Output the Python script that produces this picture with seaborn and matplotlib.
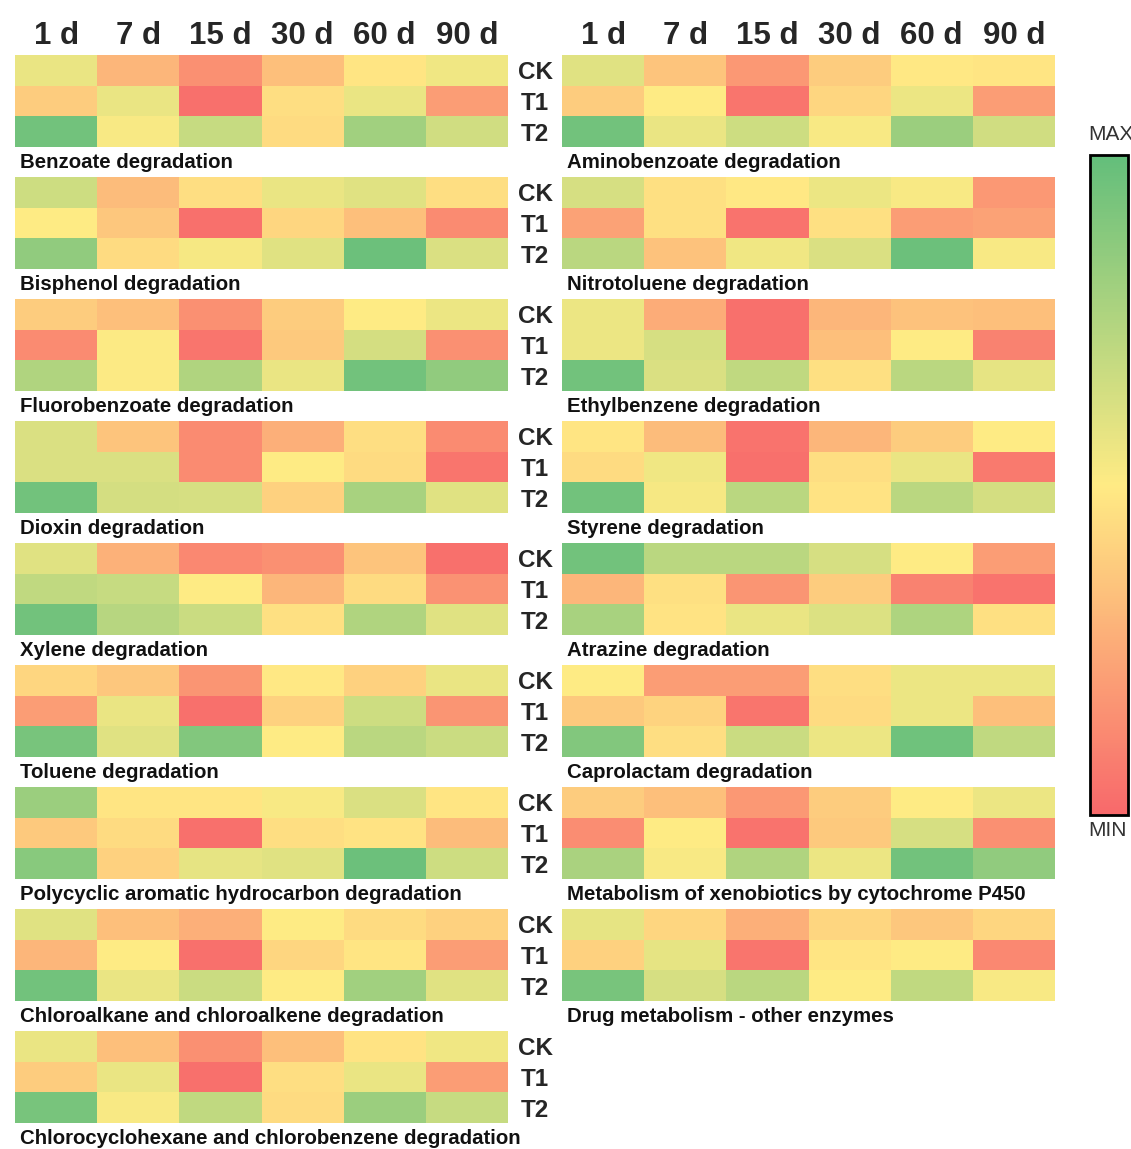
import numpy as np
import pandas as pd
import matplotlib
matplotlib.use("Agg")
import matplotlib.pyplot as plt
import seaborn as sns
from matplotlib.colors import LinearSegmentedColormap

# ---- data: relative abundance (0 = MIN, 1 = MAX) per pathway, rows CK/T1/T2 ----
days = ["1 d", "7 d", "15 d", "30 d", "60 d", "90 d"]
groups = ["CK", "T1", "T2"]

benzoate = [[0.57, 0.30, 0.15, 0.33, 0.48, 0.55],
            [0.38, 0.57, 0.03, 0.45, 0.57, 0.20],
            [0.95, 0.52, 0.68, 0.44, 0.80, 0.65]]
bisphenol = [[0.66, 0.32, 0.45, 0.57, 0.60, 0.45],
             [0.50, 0.36, 0.03, 0.42, 0.33, 0.13],
             [0.85, 0.44, 0.53, 0.60, 0.97, 0.62]]
fluorobenzoate = [[0.38, 0.33, 0.15, 0.38, 0.50, 0.56],
                  [0.13, 0.51, 0.05, 0.37, 0.64, 0.15],
                  [0.75, 0.51, 0.75, 0.57, 0.95, 0.85]]
dioxin = [[0.62, 0.35, 0.13, 0.27, 0.45, 0.13],
          [0.62, 0.62, 0.13, 0.50, 0.44, 0.05],
          [0.95, 0.64, 0.63, 0.40, 0.78, 0.60]]
xylene = [[0.60, 0.28, 0.12, 0.15, 0.35, 0.03],
          [0.70, 0.68, 0.50, 0.30, 0.44, 0.16],
          [0.95, 0.73, 0.67, 0.46, 0.75, 0.60]]
toluene = [[0.42, 0.36, 0.17, 0.49, 0.40, 0.57],
           [0.20, 0.57, 0.03, 0.40, 0.66, 0.17],
           [0.93, 0.60, 0.90, 0.50, 0.72, 0.67]]
pah = [[0.82, 0.48, 0.48, 0.52, 0.62, 0.48],
       [0.37, 0.44, 0.03, 0.45, 0.47, 0.32],
       [0.88, 0.40, 0.58, 0.60, 0.97, 0.66]]
chloroalkane = [[0.60, 0.33, 0.27, 0.50, 0.44, 0.40],
                [0.30, 0.50, 0.03, 0.42, 0.48, 0.20],
                [0.95, 0.57, 0.67, 0.50, 0.80, 0.60]]
chlorocyclohexane = [[0.57, 0.33, 0.15, 0.33, 0.47, 0.55],
                     [0.38, 0.57, 0.03, 0.45, 0.57, 0.20],
                     [0.93, 0.52, 0.70, 0.44, 0.82, 0.68]]
aminobenzoate = [[0.60, 0.35, 0.18, 0.38, 0.49, 0.48],
                 [0.38, 0.50, 0.05, 0.42, 0.56, 0.20],
                 [0.95, 0.57, 0.66, 0.52, 0.82, 0.65]]
nitrotoluene = [[0.63, 0.46, 0.49, 0.56, 0.52, 0.18],
                [0.22, 0.46, 0.04, 0.46, 0.20, 0.22],
                [0.72, 0.34, 0.55, 0.62, 0.97, 0.52]]
ethylbenzene = [[0.56, 0.26, 0.03, 0.30, 0.34, 0.33],
                [0.56, 0.63, 0.03, 0.33, 0.50, 0.10],
                [0.95, 0.62, 0.70, 0.46, 0.72, 0.58]]
styrene = [[0.48, 0.32, 0.04, 0.30, 0.38, 0.50],
           [0.44, 0.55, 0.03, 0.45, 0.57, 0.07],
           [0.95, 0.53, 0.72, 0.47, 0.72, 0.64]]
atrazine = [[0.95, 0.72, 0.72, 0.63, 0.50, 0.20],
            [0.30, 0.46, 0.17, 0.38, 0.10, 0.04],
            [0.78, 0.47, 0.57, 0.61, 0.76, 0.46]]
caprolactam = [[0.50, 0.20, 0.20, 0.45, 0.56, 0.56],
               [0.37, 0.41, 0.05, 0.44, 0.56, 0.33],
               [0.90, 0.45, 0.67, 0.56, 0.96, 0.70]]
p450 = [[0.38, 0.33, 0.18, 0.38, 0.50, 0.56],
        [0.14, 0.50, 0.04, 0.37, 0.63, 0.15],
        [0.77, 0.52, 0.75, 0.56, 0.95, 0.85]]
drug_other = [[0.58, 0.42, 0.27, 0.42, 0.36, 0.42],
              [0.40, 0.58, 0.05, 0.48, 0.50, 0.12],
              [0.93, 0.63, 0.72, 0.50, 0.70, 0.52]]

left_titles = ["Benzoate degradation", "Bisphenol degradation",
               "Fluorobenzoate degradation", "Dioxin degradation",
               "Xylene degradation", "Toluene degradation",
               "Polycyclic aromatic hydrocarbon degradation",
               "Chloroalkane and chloroalkene degradation",
               "Chlorocyclohexane and chlorobenzene degradation"]
left_data = [benzoate, bisphenol, fluorobenzoate, dioxin, xylene, toluene,
             pah, chloroalkane, chlorocyclohexane]
right_titles = ["Aminobenzoate degradation", "Nitrotoluene degradation",
                "Ethylbenzene degradation", "Styrene degradation",
                "Atrazine degradation", "Caprolactam degradation",
                "Metabolism of xenobiotics by cytochrome P450",
                "Drug metabolism - other enzymes"]
right_data = [aminobenzoate, nitrotoluene, ethylbenzene, styrene, atrazine,
              caprolactam, p450, drug_other]

# ---- styling ----
sns.set_theme(style="white")
plt.rcParams["font.family"] = ["Liberation Sans", "DejaVu Sans"]

cmap = LinearSegmentedColormap.from_list(
    "red_yellow_green", ["#F8696B", "#FFEB84", "#63BE7B"])

W, H = 1131, 1149
fig = plt.figure(figsize=(W / 100, H / 100), dpi=100)
fig.patch.set_facecolor("white")


def px_axes(x0, y0, x1, y1):
    return fig.add_axes([x0 / W, 1 - y1 / H, (x1 - x0) / W, (y1 - y0) / H])


PANEL_TOP = 55
PANEL_H = 92
STEP = 122
cax = px_axes(1090, 155, 1128, 815)
colorbars = []


def draw_column(x0, x1, titles, datasets, show_rows, cbar):
    for i, (title, values) in enumerate(zip(titles, datasets)):
        top = PANEL_TOP + STEP * i
        ax = px_axes(x0, top, x1, top + PANEL_H)
        df = pd.DataFrame(values, index=groups, columns=days)
        draw_cbar = cbar and i == 0
        sns.heatmap(df, ax=ax, cmap=cmap, vmin=0, vmax=1,
                    cbar=draw_cbar, cbar_ax=cax if draw_cbar else None,
                    xticklabels=(i == 0), yticklabels=show_rows)
        if draw_cbar:
            colorbars.append(ax.collections[0].colorbar)
        ax.tick_params(length=0)
        if i == 0:
            ax.xaxis.tick_top()
            ax.tick_params(axis="x", pad=3)
            for lab in ax.get_xticklabels():
                lab.set_fontsize(22.5)
                lab.set_fontweight("bold")
                lab.set_rotation(0)
        ax.set_xlabel("")
        ax.set_ylabel("")
        if show_rows:
            ax.yaxis.tick_right()
            ax.tick_params(axis="y", pad=19.5)
            for lab in ax.get_yticklabels():
                lab.set_fontsize(17.5)
                lab.set_fontweight("bold")
                lab.set_rotation(0)
                lab.set_ha("center")
        ax.text(5 / (x1 - x0), -16 / PANEL_H, title, transform=ax.transAxes,
                ha="left", va="center", fontsize=14.7, fontweight="bold",
                color="#111111")


draw_column(15, 508, left_titles, left_data, True, True)
draw_column(562, 1055, right_titles, right_data, False, False)

# ---- colour bar ----
cb = colorbars[0]
cb.outline.set_edgecolor("black")
cb.outline.set_linewidth(2)
cb.set_ticks([0.29, 0.64])
cax.tick_params(axis="y", length=3, width=1, direction="in", left=True,
                right=True, labelleft=False, labelright=False, color="black")
fig.text(1088 / W, 1 - 135 / H, "MAX", ha="left", va="center",
         fontsize=15, color="#333333")
fig.text(1088 / W, 1 - 831 / H, "MIN", ha="left", va="center",
         fontsize=15, color="#333333")

fig.savefig("out.png", dpi=100, facecolor="white")
